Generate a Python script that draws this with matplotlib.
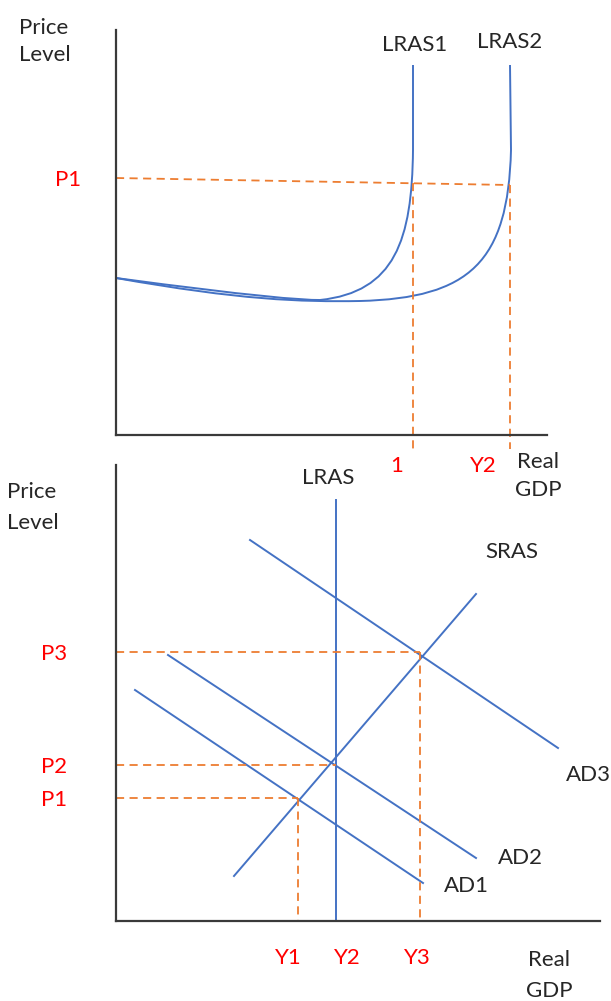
import matplotlib.pyplot as plt
from matplotlib.patches import PathPatch
from matplotlib.path import Path

plt.rcParams["font.family"] = ["Lato", "DejaVu Sans"]

BLUE = "#4472C4"
ORANGE = "#ED7D31"
RED = "#FF0000"
INK = "#262626"

# ---- top panel: LRAS shift (units = offsets from the axis origin) ----
M, C, L = Path.MOVETO, Path.CURVE4, Path.LINETO
lras1_pts = [(0, 157), (134, 139), (184, 135), (204, 135),
             (279, 143), (296, 195), (297, 285), (297, 370)]
lras2_pts = [(0, 157), (124, 135), (184, 133), (244, 134),
             (354, 137), (392, 173), (395, 285), (394, 370)]
curve_codes = [M, C, C, C, C, C, C, L]
top_p1 = [257, 250]          # dashed P1 level at y-axis / at LRAS2
top_lras_x = [297, 394]      # where LRAS1 / LRAS2 go vertical

# ---- bottom panel: AD / SRAS / LRAS ----
lras_x = 220
sras_x, sras_y = [118, 360], [45, 327]
ad1_x, ad1_y = [19, 307], [231, 38]
ad2_x, ad2_y = [52, 360], [266, 63]
ad3_x, ad3_y = [134, 442], [381, 173]
p_levels = [123, 156, 269]   # P1, P2, P3
y_levels = [182, 220, 304]   # Y1, Y2, Y3

W, H = 611, 1001
fig = plt.figure(figsize=(W / 100, H / 100), dpi=100)


def style(ax, xmax, ymax):
    ax.set_xlim(0, xmax)
    ax.set_ylim(0, ymax)
    for s in ("top", "right"):
        ax.spines[s].set_visible(False)
    for s in ("left", "bottom"):
        ax.spines[s].set_color("#3a3a3a")
        ax.spines[s].set_linewidth(1.6)
    ax.set_xticks([])
    ax.set_yticks([])
    ax.patch.set_alpha(0)


dash = dict(color=ORANGE, lw=1.3, ls=(0, (4.5, 3)), clip_on=False)
txt = dict(fontsize=16, color=INK, ha="center", va="center", clip_on=False)
left_txt = {**txt, "ha": "left"}
red_txt = {**txt, "color": RED}

# top axes
ax1 = fig.add_axes([116 / W, 1 - 435 / H, 431 / W, 405 / H])
style(ax1, 431, 405)
for pts in (lras1_pts, lras2_pts):
    ax1.add_patch(PathPatch(Path(pts, curve_codes), fill=False,
                            ec=BLUE, lw=1.4, clip_on=False))
ax1.plot([0, top_lras_x[1]], top_p1, **dash)
for xv in top_lras_x:
    yv = top_p1[0] + (top_p1[1] - top_p1[0]) * xv / top_lras_x[1]
    ax1.plot([xv, xv], [yv, -14], **dash)

ax1.text(-97, 407, "Price", **left_txt)
ax1.text(-97, 380, "Level", **left_txt)
ax1.text(299, 390, "LRAS1", **txt)
ax1.text(394, 393, "LRAS2", **txt)
ax1.text(-48, 255, "P1", **red_txt)
ax1.text(281, -31, "1", **red_txt)
ax1.text(367, -31, "Y2", **red_txt)
ax1.text(422, -27, "Real", **txt)
ax1.text(422, -55, "GDP", **txt)

# bottom axes
ax2 = fig.add_axes([116 / W, 1 - 921 / H, 484 / W, 456 / H])
style(ax2, 484, 456)
ax2.plot([lras_x, lras_x], [0, 421], color=BLUE, lw=1.4)
for xs, ys in ((sras_x, sras_y), (ad1_x, ad1_y), (ad2_x, ad2_y), (ad3_x, ad3_y)):
    ax2.plot(xs, ys, color=BLUE, lw=1.4)
for i, (pv, yv) in enumerate(zip(p_levels, y_levels)):
    ax2.plot([0, yv], [pv, pv], **dash)
    if i != 1:
        ax2.plot([yv, yv], [pv, 0], **dash)

ax2.text(-109, 429, "Price", **left_txt)
ax2.text(-109, 398, "Level", **left_txt)
ax2.text(212, 443, "LRAS", **txt)
ax2.text(396, 369, "SRAS", **txt)
ax2.text(472, 146, "AD3", **txt)
ax2.text(404, 63, "AD2", **txt)
ax2.text(350, 35, "AD1", **txt)
for lab, pv in zip(["P1", "P2", "P3"], p_levels):
    ax2.text(-62, pv - 2, lab, **red_txt)
for lab, xv in zip(["Y1", "Y2", "Y3"], [172, 231, 301]):
    ax2.text(xv, -37, lab, **red_txt)
ax2.text(433, -39, "Real", **txt)
ax2.text(433, -70, "GDP", **txt)

fig.savefig("out.png", dpi=100)
